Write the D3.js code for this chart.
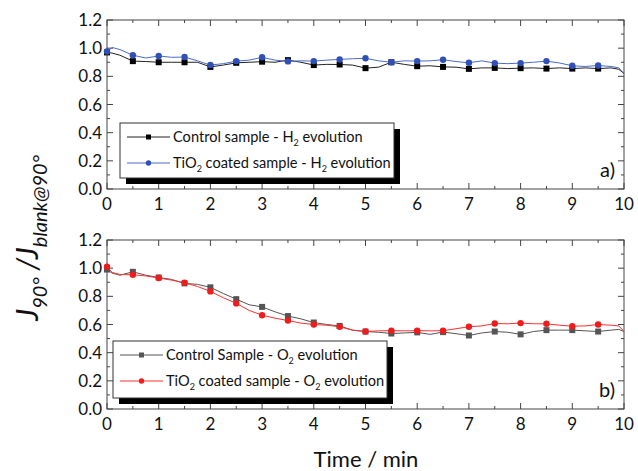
<!DOCTYPE html>
<html>
<head>
<meta charset="utf-8">
<script src="https://cdn.jsdelivr.net/npm/d3@7"></script>
<style>
  body { margin: 0; background: #fff; }
  text { font-family: Lato, "Open Sans", sans-serif; fill: #111; }
</style>
</head>
<body>
<div id="chart"></div>
<script>
// time grid in minutes (shared by all four curves)
var times = [0, 0.1, 0.25, 0.5, 0.75, 1, 1.25, 1.5, 1.75, 2, 2.25, 2.5, 2.75, 3, 3.25, 3.5, 3.75,
  4, 4.25, 4.5, 4.75, 5, 5.25, 5.5, 5.75, 6, 6.25, 6.5, 6.75, 7, 7.25, 7.5, 7.75,
  8, 8.25, 8.5, 8.75, 9, 9.25, 9.5, 9.75, 9.9, 10];

// panel a) H2 evolution
var controlH2 = [0.97, 0.965, 0.95, 0.908, 0.905, 0.90, 0.90, 0.90, 0.90, 0.867, 0.88, 0.896, 0.90, 0.904, 0.90, 0.915, 0.90,
  0.88, 0.885, 0.884, 0.88, 0.858, 0.865, 0.90, 0.885, 0.872, 0.875, 0.867, 0.865, 0.853, 0.86, 0.86, 0.855,
  0.858, 0.86, 0.855, 0.86, 0.855, 0.86, 0.855, 0.86, 0.85, 0.82];
var tio2H2 = [0.976, 1.005, 0.99, 0.95, 0.93, 0.945, 0.935, 0.937, 0.91, 0.88, 0.89, 0.908, 0.915, 0.935, 0.915, 0.906, 0.91,
  0.908, 0.915, 0.92, 0.925, 0.928, 0.91, 0.90, 0.91, 0.908, 0.91, 0.918, 0.905, 0.896, 0.91, 0.894, 0.89,
  0.894, 0.90, 0.908, 0.895, 0.875, 0.87, 0.877, 0.87, 0.86, 0.82];

// panel b) O2 evolution
var controlO2 = [0.99, 0.965, 0.95, 0.974, 0.95, 0.934, 0.92, 0.892, 0.885, 0.864, 0.82, 0.78, 0.74, 0.725, 0.69, 0.66, 0.64,
  0.614, 0.60, 0.59, 0.56, 0.55, 0.545, 0.536, 0.54, 0.544, 0.53, 0.546, 0.535, 0.522, 0.54, 0.55, 0.545,
  0.53, 0.55, 0.56, 0.56, 0.56, 0.555, 0.55, 0.56, 0.565, 0.55];
var tio2O2 = [1.01, 0.97, 0.955, 0.953, 0.945, 0.93, 0.915, 0.896, 0.87, 0.835, 0.79, 0.75, 0.70, 0.666, 0.645, 0.628, 0.61,
  0.60, 0.595, 0.584, 0.56, 0.55, 0.555, 0.556, 0.555, 0.556, 0.555, 0.556, 0.57, 0.584, 0.59, 0.607, 0.605,
  0.61, 0.605, 0.605, 0.595, 0.588, 0.59, 0.60, 0.595, 0.59, 0.55];

var xTicks = [0, 1, 2, 3, 4, 5, 6, 7, 8, 9, 10];
var yTicks = [0, 0.2, 0.4, 0.6, 0.8, 1.0, 1.2];

var width = 638, height = 471;
var svg = d3.select("#chart").append("svg")
  .attr("width", width)
  .attr("height", height);

var x = d3.scaleLinear().domain([0, 10]).range([107, 624]);

function drawPanel(top, bottom, series, legendBox, tag) {
  var y = d3.scaleLinear().domain([0, 1.2]).range([bottom, top]);
  var g = svg.append("g");

  // minor + major ticks, inward on all four sides
  var xMinor = d3.range(0.5, 10, 1), yMinor = d3.range(0.1, 1.2, 0.2);
  var tk = g.append("g").attr("stroke", "#444").attr("stroke-width", 1);
  xTicks.concat(xMinor).forEach(function(v) {
    var len = xTicks.indexOf(v) >= 0 ? 6 : 3;
    tk.append("line").attr("x1", x(v)).attr("x2", x(v)).attr("y1", bottom).attr("y2", bottom - len);
    tk.append("line").attr("x1", x(v)).attr("x2", x(v)).attr("y1", top).attr("y2", top + len);
  });
  yTicks.concat(yMinor).forEach(function(v) {
    var len = yTicks.indexOf(v) >= 0 ? 6 : 3;
    tk.append("line").attr("x1", 107).attr("x2", 107 + len).attr("y1", y(v)).attr("y2", y(v));
    tk.append("line").attr("x1", 624).attr("x2", 624 - len).attr("y1", y(v)).attr("y2", y(v));
  });

  g.append("rect")
    .attr("x", 107).attr("y", top)
    .attr("width", 517).attr("height", bottom - top)
    .attr("fill", "none").attr("stroke", "#444");

  g.selectAll(".ylab").data(yTicks).enter().append("text")
    .attr("x", 102).attr("y", function(d) { return y(d) + 6; })
    .attr("text-anchor", "end").style("font-size", "17px")
    .text(function(d) { return d.toFixed(1); });

  g.selectAll(".xlab").data(xTicks).enter().append("text")
    .attr("x", function(d) { return x(d); }).attr("y", bottom + 21)
    .attr("text-anchor", "middle").style("font-size", "17px")
    .text(function(d) { return d; });

  var line = d3.line()
    .x(function(d) { return x(d[0]); })
    .y(function(d) { return y(d[1]); });

  series.forEach(function(s) {
    var pts = times.map(function(t, i) { return [t, s.values[i]]; });
    g.append("path").datum(pts)
      .attr("d", line).attr("fill", "none")
      .attr("stroke", s.color).attr("stroke-width", 1);
    // markers every half minute
    var marks = pts.filter(function(p) { return p[0] < 10 && Math.abs(p[0] * 2 - Math.round(p[0] * 2)) < 1e-6; });
    if (s.shape === "square") {
      g.selectAll(null).data(marks).enter().append("rect")
        .attr("x", function(d) { return x(d[0]) - 3; })
        .attr("y", function(d) { return y(d[1]) - 3; })
        .attr("width", 6).attr("height", 6)
        .attr("fill", s.markColor);
    } else {
      g.selectAll(null).data(marks).enter().append("circle")
        .attr("cx", function(d) { return x(d[0]); })
        .attr("cy", function(d) { return y(d[1]); })
        .attr("r", 3.2).attr("fill", s.markColor);
    }
  });

  // legend with drop shadow
  var L = legendBox;
  g.append("rect").attr("x", L.x + 6).attr("y", L.y + 6).attr("width", L.w).attr("height", L.h).attr("fill", "#000");
  g.append("rect").attr("x", L.x).attr("y", L.y).attr("width", L.w).attr("height", L.h)
    .attr("fill", "#fff").attr("stroke", "#333");
  series.forEach(function(s, i) {
    var cy = L.y + 14 + i * 26;
    g.append("line").attr("x1", L.x + 7).attr("x2", L.x + 50).attr("y1", cy).attr("y2", cy)
      .attr("stroke", s.color).attr("stroke-width", 1);
    if (s.shape === "square") {
      g.append("rect").attr("x", L.x + 26).attr("y", cy - 2.5).attr("width", 5).attr("height", 5).attr("fill", s.markColor);
    } else {
      g.append("circle").attr("cx", L.x + 28.5).attr("cy", cy).attr("r", 2.7).attr("fill", s.markColor);
    }
    var t = g.append("text").attr("x", L.x + 53).attr("y", cy + 5).style("font-size", "14.6px");
    s.label.forEach(function(part) {
      var sp = t.append("tspan").text(part.t);
      if (part.sub) sp.attr("dy", 4).style("font-size", "9px");
      else if (part.back) sp.attr("dy", -4);
    });
  });

  g.append("text").attr("x", 615).attr("y", bottom - 12)
    .attr("text-anchor", "end").style("font-size", "20px").text(tag);
}

drawPanel(20, 189, [
  { values: controlH2, color: "#222", markColor: "#000", shape: "square",
    label: [{t: "Control sample - H"}, {t: "2", sub: true}, {t: " evolution", back: true}] },
  { values: tio2H2, color: "#4a6ad0", markColor: "#3050b8", shape: "circle",
    label: [{t: "TiO"}, {t: "2", sub: true}, {t: " coated sample - H", back: true}, {t: "2", sub: true}, {t: " evolution", back: true}] }
], { x: 120, y: 123, w: 274, h: 55 }, "a)");

drawPanel(240, 409, [
  { values: controlO2, color: "#555", markColor: "#555", shape: "square",
    label: [{t: "Control Sample - O"}, {t: "2", sub: true}, {t: " evolution", back: true}] },
  { values: tio2O2, color: "#ff3030", markColor: "#ee1c1c", shape: "circle",
    label: [{t: "TiO"}, {t: "2", sub: true}, {t: " coated sample - O", back: true}, {t: "2", sub: true}, {t: " evolution", back: true}] }
], { x: 113, y: 341, w: 274, h: 57 }, "b)");

// axis titles
svg.append("text").attr("x", 366).attr("y", 467)
  .attr("text-anchor", "middle").style("font-size", "22px").text("Time / min");

var yt = svg.append("text")
  .attr("transform", "translate(38,238) rotate(-90)")
  .attr("text-anchor", "middle").style("font-size", "30px").style("font-style", "italic");
yt.append("tspan").text("J");
yt.append("tspan").attr("dy", 9).style("font-size", "20px").text("90°");
yt.append("tspan").attr("dy", -9).text(" /J");
yt.append("tspan").attr("dy", 9).style("font-size", "20px").text("blank@90°");
</script>
</body>
</html>
